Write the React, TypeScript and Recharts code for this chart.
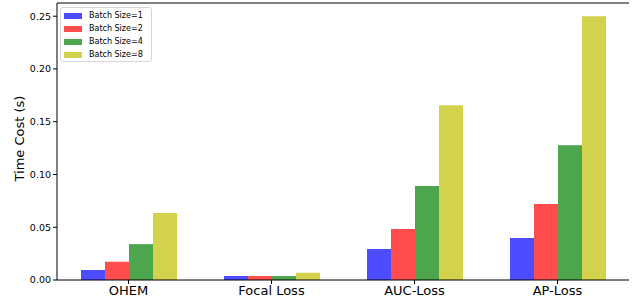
import React from "react";
import { BarChart, Bar, XAxis, YAxis, ReferenceLine } from "recharts";

const categories = ["OHEM", "Focal Loss", "AUC-Loss", "AP-Loss"];
const batch1 = [0.0095, 0.0038, 0.0294, 0.0398];
const batch2 = [0.0173, 0.0038, 0.0483, 0.072];
const batch4 = [0.034, 0.0038, 0.089, 0.1278];
const batch8 = [0.0634, 0.0069, 0.1657, 0.25];
const yTicks = [0, 0.05, 0.1, 0.15, 0.2, 0.25];
const seriesNames = ["Batch Size=1", "Batch Size=2", "Batch Size=4", "Batch Size=8"];
const seriesKeys = ["b1", "b2", "b4", "b8"];
const seriesColors = ["#4d4dff", "#ff4d4d", "#4da64d", "#d2d24d"];
const yMax = 0.2625;

const data = categories.map((c, i) => ({
  name: c,
  b1: batch1[i],
  b2: batch2[i],
  b4: batch4[i],
  b8: batch8[i],
}));

const FONT = "'DejaVu Sans', sans-serif";

const LegendBox = () => (
  <div
    style={{
      position: "absolute",
      left: 60,
      top: 7,
      width: 92,
      height: 55,
      border: "1px solid #d6d6d6",
      borderRadius: 3,
      background: "rgba(255,255,255,0.8)",
      boxSizing: "border-box",
      padding: "2px 0 0 3px",
      fontFamily: FONT,
      fontSize: 8,
      color: "#000",
    }}
  >
    {seriesNames.map((n, i) => (
      <div key={n} style={{ display: "flex", alignItems: "center", height: 12.8 }}>
        <div style={{ width: 18, height: 6, background: seriesColors[i], marginRight: 7 }} />
        <span style={{ lineHeight: "10px" }}>{n}</span>
      </div>
    ))}
  </div>
);

export default function App() {
  return (
    <div style={{ position: "absolute", left: 0, top: 0, width: 642, height: 303, background: "#fff" }}>
      <BarChart
        width={642}
        height={303}
        data={data}
        margin={{ top: 3, right: 13, bottom: 0, left: 0 }}
        barCategoryGap={24}
        barGap={0}
      >
        <XAxis
          dataKey="name"
          height={23}
          stroke="#000"
          tickLine={{ stroke: "#000" }}
          tickSize={4}
          tickMargin={2}
          tick={{ fill: "#000", fontSize: 13, fontFamily: FONT }}
          interval={0}
        />
        <YAxis
          width={57}
          domain={[0, yMax]}
          ticks={yTicks}
          allowDataOverflow
          stroke="#000"
          tickSize={4}
          tickMargin={2}
          tickFormatter={(v: number) => v.toFixed(2)}
          tick={{ fill: "#000", fontSize: 9.5, fontFamily: FONT }}
          label={{
            value: "Time Cost (s)",
            angle: -90,
            position: "insideLeft",
            dx: 14,
            dy: 40,
            style: { fontSize: 13, fontFamily: FONT, fill: "#000" },
          }}
        />
        <YAxis yAxisId="right" orientation="right" width={0} tick={false} tickLine={false} stroke="#000" domain={[0, yMax]} />
        <ReferenceLine y={yMax} stroke="#000" strokeWidth={1} />
        {seriesKeys.map((k, i) => (
          <Bar key={k} dataKey={k} name={seriesNames[i]} fill={seriesColors[i]} isAnimationActive={false} />
        ))}
      </BarChart>
      <LegendBox />
    </div>
  );
}
